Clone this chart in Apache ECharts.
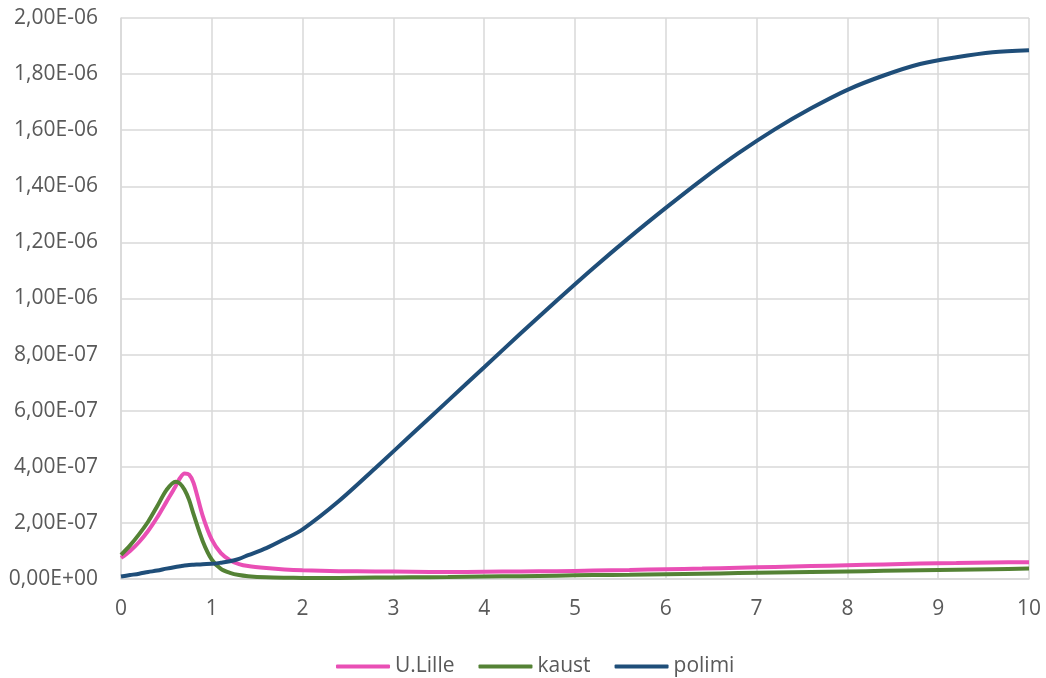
<!DOCTYPE html>
<html><head><meta charset="utf-8">
<script src="https://cdn.jsdelivr.net/npm/echarts@6/dist/echarts.min.js"></script>
<style>html,body{margin:0;padding:0;background:#fff}#c{width:1046px;height:678px}</style>
</head><body><div id="c"></div>
<script>
// values in units of 1e-7
const UNIT = 1e-7;
const xs = [0,0.1,0.2,0.3,0.4,0.5,0.6,0.65,0.7,0.75,0.8,0.9,1.0,1.1,1.2,1.3,1.4,1.6,1.8,2.0,2.4,2.8,3.2,3.6,4.0,4.4,4.8,5.2,5.6,6.0,6.4,6.8,7.2,7.6,8.0,8.4,8.8,9.2,9.6,10];
const uLille = [0.75,1.0,1.32,1.72,2.2,2.75,3.3,3.6,3.76,3.72,3.42,2.25,1.4,0.92,0.67,0.53,0.46,0.39,0.34,0.31,0.28,0.27,0.26,0.25,0.26,0.27,0.28,0.30,0.32,0.35,0.37,0.40,0.43,0.46,0.49,0.52,0.55,0.57,0.59,0.60];
const kaust  = [0.86,1.2,1.6,2.05,2.6,3.17,3.47,3.4,3.18,2.82,2.3,1.35,0.69,0.36,0.22,0.14,0.1,0.06,0.045,0.04,0.04,0.05,0.06,0.07,0.09,0.1,0.12,0.14,0.15,0.17,0.19,0.21,0.23,0.25,0.27,0.29,0.31,0.33,0.35,0.37];
const polimi = [0.09,0.14,0.19,0.25,0.3,0.37,0.43,0.455,0.48,0.5,0.51,0.53,0.54,0.58,0.63,0.72,0.85,1.1,1.42,1.77,2.78,3.95,5.15,6.35,7.55,8.75,9.93,11.08,12.18,13.23,14.24,15.18,16.03,16.78,17.44,17.95,18.36,18.6,18.78,18.85];
const xTicks = {min:0, max:10, interval:1};
const yTicks = {min:0, max:2e-6, interval:2e-7};

function pairs(a){ return xs.map((x,i)=>[x, a[i]*UNIT]); }
function fmt(v){
  if (Math.abs(v) < 1e-15) return '0,00E+00';
  let e = Math.floor(Math.log10(v) + 1e-9);
  let m = v / Math.pow(10, e);
  if (Math.round(m*100)/100 >= 10) { e += 1; m = v/Math.pow(10,e); }
  const es = (e < 0 ? '-' : '+') + String(Math.abs(e)).padStart(2,'0');
  return m.toFixed(2).replace('.', ',') + 'E' + es;
}
const chart = echarts.init(document.getElementById('c'));
const FONT = 'Open Sans';
chart.setOption({
  animation:false,
  grid:{left:121, right:17, top:18, bottom:99, containLabel:false},
  legend:{
    top:651, left:331, itemWidth:54, itemHeight:4, itemGap:24,
    textStyle:{fontFamily:FONT, fontSize:21, color:'#595959'},
    icon:'roundRect',
    data:['U.Lille','kaust','polimi']
  },
  xAxis:{type:'value', min:xTicks.min, max:xTicks.max, interval:xTicks.interval,
    axisLine:{show:true, lineStyle:{color:'#d9d9d9', width:1.5}},
    axisTick:{show:false},
    axisLabel:{fontFamily:FONT, fontSize:21, color:'#595959', margin:20},
    splitLine:{show:true, lineStyle:{color:'#d9d9d9', width:1.5}}
  },
  yAxis:{type:'value', min:yTicks.min, max:yTicks.max, interval:yTicks.interval,
    axisLine:{show:true, lineStyle:{color:'#d9d9d9', width:1.5}},
    axisTick:{show:false},
    axisLabel:{fontFamily:FONT, fontSize:21, color:'#595959', margin:23, formatter:fmt},
    splitLine:{show:true, lineStyle:{color:'#d9d9d9', width:1.5}}
  },
  series:[
    {name:'U.Lille', type:'line', data:pairs(uLille), smooth:0.3, showSymbol:false, symbol:'none', lineStyle:{width:4, color:'#E94FB5'}, itemStyle:{color:'#E94FB5'}},
    {name:'kaust', type:'line', data:pairs(kaust), smooth:0.3, showSymbol:false, symbol:'none', lineStyle:{width:4, color:'#548235'}, itemStyle:{color:'#548235'}},
    {name:'polimi', type:'line', data:pairs(polimi), smooth:0.3, showSymbol:false, symbol:'none', lineStyle:{width:4, color:'#1F4E79'}, itemStyle:{color:'#1F4E79'}}
  ]
});
</script></body></html>
